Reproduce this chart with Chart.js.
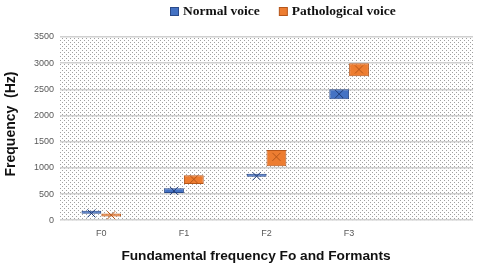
<!DOCTYPE html>
<html><head><meta charset="utf-8">
<script src="https://cdn.jsdelivr.net/npm/chart.js@4"></script>
<style>html,body{margin:0;padding:0;background:#fff}#wrap{width:480px;height:268px}</style>
</head><body><div id="wrap"><canvas id="c"></canvas></div>
<script>
const categories = ['F0', 'F1', 'F2', 'F3', ''];
const seriesNames = ['Normal voice', 'Pathological voice'];
const normalRange = [[122, 140], [520, 610], [830, 852], [2310, 2500], null];
const pathRange = [[70, 120], [690, 860], [1030, 1340], [2750, 3000], null];
const normalMean = [130, 560, 840, 2410, null];
const pathMean = [95, 780, 1210, 2880, null];
const yTicks = [0, 500, 1000, 1500, 2000, 2500, 3000, 3500];
const xTitle = 'Fundamental frequency Fo and Formants';
const yTitle = 'Frequency  (Hz)';

const FILL = ['#4472C4', '#ED7D31'];
const EDGE = ['#2a4a8a', '#b5561a'];

function makePattern(ctx) {
  const t = document.createElement('canvas');
  t.width = 4; t.height = 4;
  const g = t.getContext('2d');
  g.fillStyle = '#ffffff'; g.fillRect(0, 0, 4, 4);
  g.fillStyle = '#a0a0a0';
  g.fillRect(0, 0, 1, 1); g.fillRect(2, 2, 1, 1);
  return ctx.createPattern(t, 'repeat');
}

const bgPlugin = {
  id: 'bgPattern',
  beforeDraw(chart) {
    const {ctx, chartArea: a} = chart;
    ctx.save();
    ctx.fillStyle = makePattern(ctx);
    ctx.fillRect(a.left, a.top, a.right - a.left, a.bottom - a.top);
    ctx.restore();
  }
};

const meanPlugin = {
  id: 'means',
  afterDatasetsDraw(chart) {
    const ctx = chart.ctx, y = chart.scales.y;
    const means = [normalMean, pathMean];
    const cols = ['#1f3c78', '#b5561a'];
    chart.data.datasets.forEach((ds, di) => {
      chart.getDatasetMeta(di).data.forEach((el, i) => {
        const m = means[di][i];
        if (m == null) return;
        const cx = el.x, cy = y.getPixelForValue(m);
        const s = 4;
        ctx.save();
        ctx.strokeStyle = cols[di]; ctx.lineWidth = 1;
        ctx.beginPath();
        ctx.moveTo(cx - s, cy - s); ctx.lineTo(cx + s, cy + s);
        ctx.moveTo(cx + s, cy - s); ctx.lineTo(cx - s, cy + s);
        ctx.stroke();
        ctx.restore();
      });
    });
  }
};

const textPlugin = {
  id: 'texts',
  afterDraw(chart) {
    const ctx = chart.ctx;
    ctx.save();
    ctx.font = 'bold 13.5px "Liberation Serif", "Times New Roman", serif';
    ctx.textBaseline = 'middle';
    ctx.textAlign = 'left';
    let x = 170;
    const ly = 12;
    chart.data.datasets.forEach((ds, i) => {
      ctx.fillStyle = ds.backgroundColor;
      ctx.fillRect(x + 0.5, ly - 4.5, 8, 8);
      ctx.strokeStyle = ds.borderColor; ctx.lineWidth = 1;
      ctx.strokeRect(x + 0.5, ly - 4.5, 8, 8);
      ctx.fillStyle = '#111';
      ctx.fillText(ds.label, x + 13, ly);
      x += 13 + ctx.measureText(ds.label).width + 19;
    });
    ctx.font = 'bold 13.7px "Liberation Sans", Arial, sans-serif';
    ctx.textAlign = 'center';
    ctx.fillText(xTitle, 256, 256);
    ctx.translate(11, 124);
    ctx.rotate(-Math.PI / 2);
    ctx.font = 'bold 14px "Liberation Sans", Arial, sans-serif';
    ctx.fillText(yTitle, 0, 0);
    ctx.restore();
  }
};

new Chart(document.getElementById('c'), {
  type: 'bar',
  data: {
    labels: categories,
    datasets: [
      {label: seriesNames[0], data: normalRange, backgroundColor: FILL[0], borderColor: EDGE[0], borderWidth: 1, borderSkipped: false},
      {label: seriesNames[1], data: pathRange, backgroundColor: FILL[1], borderColor: EDGE[1], borderWidth: 1, borderSkipped: false}
    ]
  },
  options: {
    responsive: true, maintainAspectRatio: false, animation: false,
    layout: {padding: {left: 28, right: 7, top: 37, bottom: 21}},
    datasets: {bar: {categoryPercentage: 0.48, barPercentage: 1.0, minBarLength: 3}},
    plugins: {
      legend: {display: false},
      tooltip: {enabled: false}
    },
    scales: {
      x: {
        grid: {display: false, drawTicks: false},
        border: {display: false},
        ticks: {color: '#595959', font: {family: '"Liberation Sans", Arial, sans-serif', size: 9}, padding: 8}
      },
      y: {
        min: 0, max: 3500,
        afterBuildTicks(axis) { axis.ticks = yTicks.map(v => ({value: v})); },
        grid: {color: '#d0d0d0', lineWidth: 1.5, drawTicks: false},
        border: {display: false},
        ticks: {color: '#595959', font: {family: '"Liberation Sans", Arial, sans-serif', size: 9}, padding: 6,
          callback: v => String(v)}
      }
    }
  },
  plugins: [bgPlugin, meanPlugin, textPlugin]
});
</script></body></html>
